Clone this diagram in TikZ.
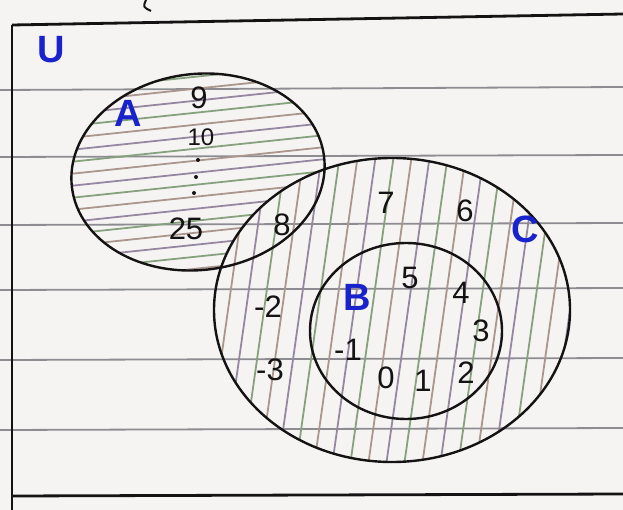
\documentclass[tikz,border=0pt]{standalone}
\usepackage{fontspec}
\setmainfont{Liberation Sans}
\definecolor{paper}{RGB}{246,244,243}
\definecolor{ruled}{RGB}{140,140,145}
\definecolor{ink}{RGB}{20,18,18}
\definecolor{blueink}{RGB}{25,35,205}
\definecolor{hA}{RGB}{150,135,160}
\definecolor{hB}{RGB}{135,160,125}
\definecolor{hC}{RGB}{170,150,140}
\tikzset{
  rule/.style={ruled,line width=1.8pt},
  frameline/.style={ink,line width=2.8pt},
  setline/.style={ink,line width=2.4pt},
  hatch/.style={line width=1.8pt},
  num/.style={ink,font=\fontsize{31}{31}\selectfont,inner sep=0pt},
  small/.style={ink,font=\fontsize{24}{24}\selectfont,inner sep=0pt},
  setname/.style={blueink,font=\fontsize{38}{38}\selectfont\bfseries,inner sep=0pt},
  dotmark/.style={ink,fill,circle,inner sep=0pt,minimum size=4pt}
}
\begin{document}
\begin{tikzpicture}[x=1pt,y=-1pt]
\useasboundingbox (0,0) rectangle (623,510);
\fill[paper] (0,0) rectangle (623,510);
\clip (0,0) rectangle (623,510);
% ruled lines of the paper
\foreach \yy/\dd in {90/-3,157/-2,225/-2,290/-2,360/-2,430/-2}
  \draw[rule] (0,\yy) -- (623,\yy+\dd);
% hatching of A (outside C)
\begin{scope}
  \clip[rotate around={7:(198,172)}] (198,172) ellipse [x radius=127pt, y radius=98pt];
  \begin{scope}[even odd rule]
  \clip (-10,-10) rectangle (640,520) (392,310) ellipse [x radius=178pt, y radius=152pt];
  \foreach \yy [count=\i] in {55,67,...,330} {
    \pgfmathtruncatemacro\ci{mod(\i,3)}
    \ifnum\ci=0 \def\hc{hA}\fi
    \ifnum\ci=1 \def\hc{hB}\fi
    \ifnum\ci=2 \def\hc{hC}\fi
    \draw[hatch,\hc] (60,\yy) -- (345,\yy-30);
  }
  \end{scope}
\end{scope}
% hatching of C
\begin{scope}
  \clip (392,310) ellipse [x radius=178pt, y radius=152pt];
  \foreach \xx [count=\i] in {180,198,...,660} {
    \pgfmathtruncatemacro\ci{mod(\i,3)}
    \ifnum\ci=0 \def\hc{hA}\fi
    \ifnum\ci=1 \def\hc{hB}\fi
    \ifnum\ci=2 \def\hc{hC}\fi
    \draw[hatch,\hc] (\xx,140) -- (\xx-48,480);
  }
\end{scope}
% frame of U
\coordinate (tl) at (12,25);
\coordinate (tr) at (623,14);
\coordinate (bl) at (12,510);
\coordinate (bbl) at (12,496);
\coordinate (bbr) at (623,494);
\draw[frameline] (tl) -- (tr);
\draw[frameline] (tl) -- (bl);
\draw[frameline] (bbl) -- (bbr);
\draw[ink,line width=2pt] (146,0) .. controls (143,7) .. (151,11);
% sets
\draw[setline,rotate around={7:(198,172)}] (198,172) ellipse [x radius=127pt, y radius=98pt];
\draw[setline] (392,310) ellipse [x radius=178pt, y radius=152pt];
\draw[setline] (406,331) ellipse [x radius=96pt, y radius=88pt];
% set names
\node[setname] (U) at (51,50) {U};
\node[setname] (A) at (128,113) {A};
\node[setname] (B) at (357,297) {B};
\node[setname] (C) at (525,229) {C};
% elements of A only
\node[num] (n9) at (199,98) {9};
\node[small] (n10) at (201,137) {10};
\node[dotmark] (d1) at (198,160) {};
\node[dotmark] (d2) at (196,177) {};
\node[dotmark] (d3) at (194,193) {};
\node[num] (n25) at (186,229) {25};
% A and C
\node[num] (n8) at (282,225) {8};
% C only
\node[num] (n7) at (386,203) {7};
\node[num] (n6) at (465,211) {6};
\node[num] (nm2) at (268,307) {-2};
\node[num] (nm3) at (270,370) {-3};
% B
\node[num] (n5) at (410,278) {5};
\node[num] (n4) at (461,293) {4};
\node[num] (n3) at (481,331) {3};
\node[num] (nm1) at (348,350) {-1};
\node[num] (n0) at (386,378) {0};
\node[num] (n1) at (423,381) {1};
\node[num] (n2) at (466,373) {2};
\end{tikzpicture}
\end{document}
